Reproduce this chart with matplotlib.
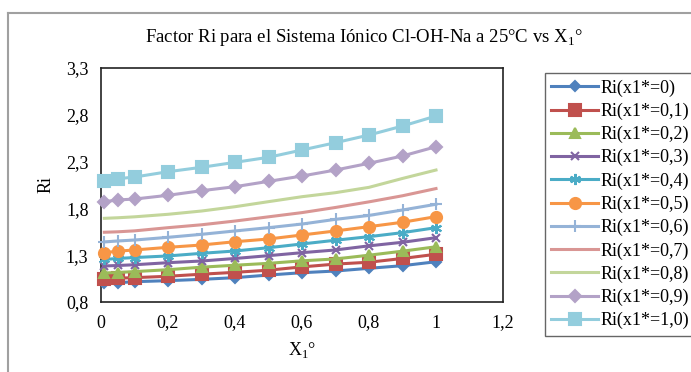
import numpy as np
import matplotlib
matplotlib.use("Agg")
import matplotlib.pyplot as plt
from matplotlib.lines import Line2D
from matplotlib.ticker import FuncFormatter, MultipleLocator, FixedLocator

plt.rcParams['font.family'] = ['Liberation Serif', 'DejaVu Serif']
plt.rcParams['mathtext.fontset'] = 'custom'
plt.rcParams['mathtext.rm'] = 'Liberation Serif'

# --- Data: Ri factor vs X1 for each x1* value
x1 = [0.01, 0.05, 0.1, 0.2, 0.3, 0.4, 0.5, 0.6, 0.7, 0.8, 0.9, 1.0]

ri_00 = [1.000, 1.006, 1.017, 1.028, 1.042, 1.060, 1.088, 1.113, 1.131, 1.160, 1.188, 1.230]
ri_01 = [1.050, 1.055, 1.060, 1.075, 1.097, 1.117, 1.140, 1.175, 1.205, 1.225, 1.265, 1.310]
ri_02 = [1.110, 1.115, 1.125, 1.145, 1.172, 1.193, 1.213, 1.240, 1.260, 1.300, 1.343, 1.390]
ri_03 = [1.185, 1.190, 1.198, 1.220, 1.238, 1.265, 1.295, 1.327, 1.356, 1.400, 1.438, 1.487]
ri_04 = [1.255, 1.265, 1.275, 1.292, 1.320, 1.345, 1.380, 1.420, 1.460, 1.498, 1.541, 1.594]
ri_05 = [1.327, 1.343, 1.356, 1.384, 1.409, 1.444, 1.473, 1.516, 1.559, 1.605, 1.652, 1.712]
ri_06 = [1.442, 1.452, 1.462, 1.491, 1.523, 1.559, 1.594, 1.633, 1.683, 1.725, 1.783, 1.844]
ri_07 = [1.545, 1.550, 1.560, 1.594, 1.625, 1.665, 1.710, 1.755, 1.810, 1.870, 1.935, 2.012]
ri_08 = [1.694, 1.700, 1.710, 1.737, 1.772, 1.818, 1.872, 1.925, 1.968, 2.025, 2.120, 2.210]
ri_09 = [1.872, 1.890, 1.900, 1.940, 1.989, 2.032, 2.089, 2.146, 2.210, 2.282, 2.360, 2.459]
ri_10 = [2.096, 2.117, 2.135, 2.192, 2.239, 2.292, 2.346, 2.424, 2.502, 2.584, 2.680, 2.787]

labels = ["Ri(x1*=0)", "Ri(x1*=0,1)", "Ri(x1*=0,2)", "Ri(x1*=0,3)",
          "Ri(x1*=0,4)", "Ri(x1*=0,5)", "Ri(x1*=0,6)", "Ri(x1*=0,7)",
          "Ri(x1*=0,8)", "Ri(x1*=0,9)", "Ri(x1*=1,0)"]

series = [ri_00, ri_01, ri_02, ri_03, ri_04, ri_05,
          ri_06, ri_07, ri_08, ri_09, ri_10]

y_ticks = [0.8, 1.3, 1.8, 2.3, 2.8, 3.3]

# Office 2007 palette
colors = ['#4F81BD', '#C0504D', '#9BBB59', '#8064A2', '#4BACC6', '#F79646',
          '#95B3D7', '#D99694', '#C3D69B', '#B3A2C7', '#93CDDD']
markers = ['D', 's', '^', 'x', (6, 2, 0), 'o', '+', None, None, 'D', 's']
msizes = [5, 8, 7, 6, 8, 8, 8, 0, 0, 6, 8]

fig = plt.figure(figsize=(6.91, 3.72), dpi=100)
ax = fig.add_axes([101 / 691, 1 - 302 / 372, 402 / 691, 234 / 372])

for y, lab, c, m, ms in zip(series, labels, colors, markers, msizes):
    ax.plot(x1, y, color=c, lw=2.2, marker=m, ms=ms, mew=1.5,
            label=lab, clip_on=False, zorder=3)

ax.set_xlim(0, 1.2)
ax.set_ylim(0.8, 3.3)
ax.xaxis.set_major_locator(MultipleLocator(0.2))
ax.yaxis.set_major_locator(FixedLocator(y_ticks))

comma = FuncFormatter(lambda v, p: f"{round(v, 2):g}".replace('.', ','))
ax.xaxis.set_major_formatter(comma)
ax.yaxis.set_major_formatter(comma)
ax.tick_params(length=0, labelsize=13, pad=9)

for s in ax.spines.values():
    s.set_color('#222222')
    s.set_linewidth(1.2)

fig.text(364 / 691, 1 - 38 / 372,
         "Factor Ri para el Sistema Iónico Cl-OH-Na a 25°C vs X$_{\\mathregular{1}}$°",
         fontsize=13.5, ha='center', va='center')
ax.set_xlabel("X$_{\\mathregular{1}}$°", fontsize=13, labelpad=6)
ax.set_ylabel("Ri", fontsize=13, labelpad=8)

leg = fig.legend(loc='upper left', bbox_to_anchor=(545 / 691, 1 - 73 / 372),
                 fontsize=13, frameon=True, fancybox=False, handlelength=2.6,
                 handletextpad=0.15, labelspacing=0.33, borderpad=0.35,
                 borderaxespad=0)
leg.get_frame().set_edgecolor('#404040')
leg.get_frame().set_linewidth(1.0)

# outer chart frame (top and left edges)
fig.add_artist(Line2D([8 / 691, 1], [1 - 13 / 372] * 2, color='#a0a0a0', lw=1.5))
fig.add_artist(Line2D([8 / 691] * 2, [0, 1 - 13 / 372], color='#a0a0a0', lw=1.5))

fig.savefig("out.png", dpi=100)
plt.close(fig)
